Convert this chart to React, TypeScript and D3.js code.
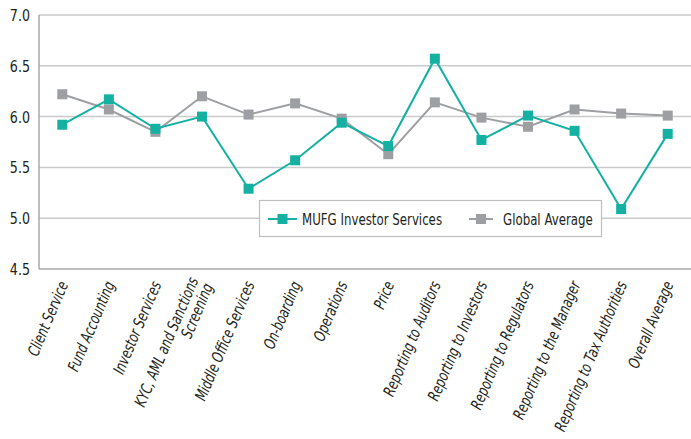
import React, { useEffect, useRef } from 'react';
import * as d3 from 'd3';

const categories = [
  'Client Service',
  'Fund Accounting',
  'Investor Services',
  'KYC, AML and Sanctions\nScreening',
  'Middle Office Services',
  'On-boarding',
  'Operations',
  'Price',
  'Reporting to Auditors',
  'Reporting to Investors',
  'Reporting to Regulators',
  'Reporting to the Manager',
  'Reporting to Tax Authorities',
  'Overall Average',
];
const mufgValues = [5.92, 6.17, 5.88, 6.0, 5.29, 5.57, 5.94, 5.71, 6.57, 5.77, 6.01, 5.86, 5.09, 5.83];
const globalValues = [6.22, 6.07, 5.85, 6.2, 6.02, 6.13, 5.98, 5.63, 6.14, 5.99, 5.9, 6.07, 6.03, 6.01];
const yTicks = [4.5, 5.0, 5.5, 6.0, 6.5, 7.0];
const seriesNames = ['MUFG Investor Services', 'Global Average'];

const TEAL = '#14b1a3';
const GREY = '#9d9fa2';
const FONT = "'DejaVu Sans Condensed', 'DejaVu Sans', sans-serif";

function App() {
  const ref = useRef<SVGSVGElement>(null);

  useEffect(() => {
    document.body.style.margin = '0';
    const left = 39, right = 691, top = 15, bottom = 269;

    const svg = d3.select(ref.current);
    svg.selectAll('*').remove();

    const x = d3.scalePoint<number>()
      .domain(d3.range(categories.length))
      .range([left, right])
      .padding(0.5);
    const y = d3.scaleLinear().domain([4.5, 7.0]).range([bottom, top]);

    // gridlines
    svg.append('g')
      .selectAll('line')
      .data(yTicks.slice(1))
      .enter().append('line')
      .attr('x1', left).attr('x2', right)
      .attr('y1', d => y(d)).attr('y2', d => y(d))
      .attr('stroke', '#c9cacc').attr('stroke-width', 1.5);

    // axis lines
    svg.append('line')
      .attr('x1', left).attr('x2', right).attr('y1', bottom).attr('y2', bottom)
      .attr('stroke', '#a7a9ac').attr('stroke-width', 1.5);
    svg.append('line')
      .attr('x1', left).attr('x2', left).attr('y1', top).attr('y2', bottom)
      .attr('stroke', '#a7a9ac').attr('stroke-width', 1.5);

    // y tick labels (squeezed to mimic the condensed face)
    svg.append('g')
      .selectAll('text')
      .data(yTicks)
      .enter().append('text')
      .attr('transform', d => 'translate(30,' + (y(d) + 6) + ') scale(0.88,1)')
      .attr('text-anchor', 'end')
      .style('font-family', FONT).style('font-size', '16px').style('fill', '#231f20')
      .text(d => d.toFixed(1));

    // x labels
    const xl = svg.append('g')
      .selectAll('text')
      .data(categories)
      .enter().append('text')
      .attr('transform', (d, i) => 'translate(' + (x(i)! + 1) + ',' + (bottom + 13) + ') rotate(-67) scale(0.8,1)')
      .attr('text-anchor', 'end')
      .style('font-family', FONT).style('font-size', '16px').style('font-style', 'italic').style('fill', '#231f20');
    xl.each(function (d) {
      const lines = d.split('\n');
      const t = d3.select(this);
      lines.forEach((ln, k) => {
        t.append('tspan').attr('x', 0).attr('dy', k === 0 ? (lines.length > 1 ? '-0.3em' : '0.35em') : '1.0em').text(ln);
      });
    });

    const line = d3.line<number>()
      .x((d, i) => x(i)!)
      .y(d => y(d));

    const series = [
      { name: seriesNames[1], values: globalValues, color: GREY },
      { name: seriesNames[0], values: mufgValues, color: TEAL },
    ];

    series.forEach(s => {
      svg.append('path')
        .datum(s.values)
        .attr('d', line)
        .attr('fill', 'none')
        .attr('stroke', s.color)
        .attr('stroke-width', 2);
      svg.append('g')
        .selectAll('rect')
        .data(s.values)
        .enter().append('rect')
        .attr('x', (d, i) => x(i)! - 5)
        .attr('y', d => y(d) - 5)
        .attr('width', 10).attr('height', 10)
        .attr('fill', s.color);
    });

    // legend
    const lg = svg.append('g');
    lg.append('rect')
      .attr('x', 259.5).attr('y', 200.5).attr('width', 342).attr('height', 36)
      .attr('fill', '#fff').attr('stroke', '#bcbec0').attr('stroke-width', 1.2);
    const items = [
      { name: seriesNames[0], color: TEAL, x0: 268, x1: 297, tx: 302 },
      { name: seriesNames[1], color: GREY, x0: 469, x1: 493, tx: 503 },
    ];
    items.forEach(it => {
      lg.append('line')
        .attr('x1', it.x0).attr('x2', it.x1).attr('y1', 219).attr('y2', 219)
        .attr('stroke', it.color).attr('stroke-width', 2);
      lg.append('rect')
        .attr('x', (it.x0 + it.x1) / 2 - 5).attr('y', 214).attr('width', 10).attr('height', 10)
        .attr('fill', it.color);
      lg.append('text')
        .attr('transform', 'translate(' + it.tx + ',225) scale(0.82,1)')
        .style('font-family', FONT).style('font-size', '16px').style('fill', '#231f20')
        .text(it.name);
    });
  }, []);

  return <svg ref={ref} width={691} height={439} style={{ display: 'block', background: '#fff' }} />;
}

export default App;
